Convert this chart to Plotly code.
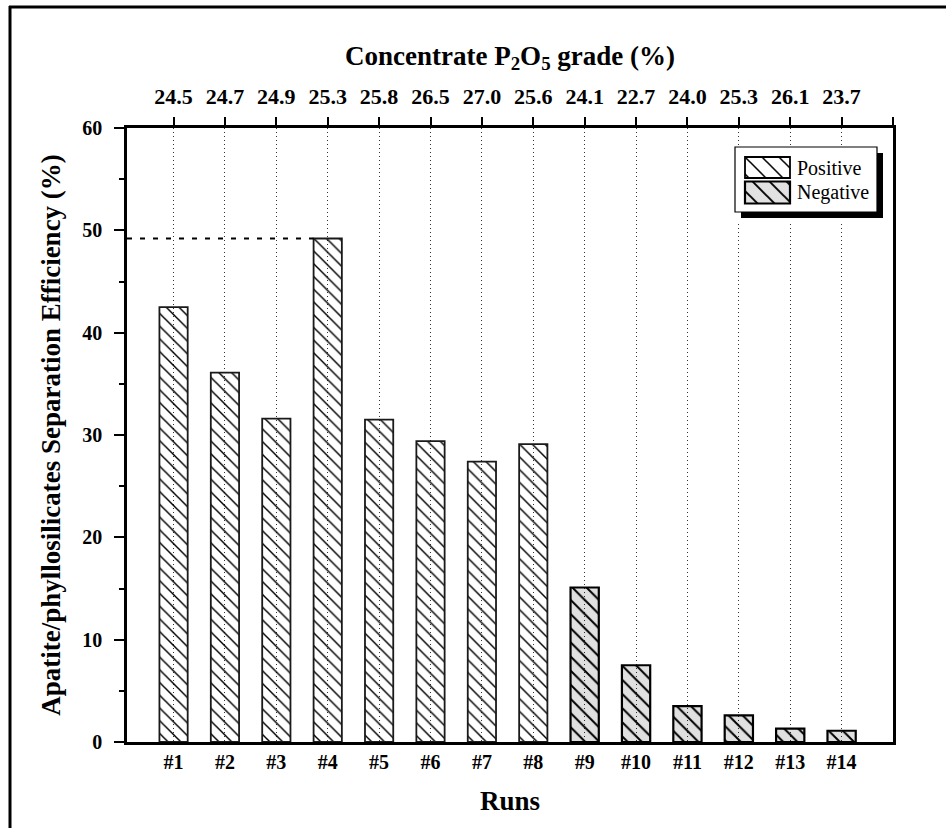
import plotly.graph_objects as go

# ---------------- data ----------------
runs = ['#1', '#2', '#3', '#4', '#5', '#6', '#7', '#8', '#9', '#10', '#11', '#12', '#13', '#14']
efficiency = [42.5, 36.1, 31.6, 49.2, 31.5, 29.4, 27.4, 29.1, 15.1, 7.5, 3.5, 2.6, 1.3, 1.1]
grade = ['24.5', '24.7', '24.9', '25.3', '25.8', '26.5', '27.0', '25.6', '24.1', '22.7', '24.0', '25.3', '26.1', '23.7']
kind = ['Positive'] * 8 + ['Negative'] * 6
y_ticks = [0, 10, 20, 30, 40, 50, 60]

# ---------------- layout constants ----------------
W, H = 946, 828
ML, MR, MT, MB = 127, 53, 128, 86
PW, PH = W - ML - MR, H - MT - MB
X_RANGE = [0.094, 15.0]
BAR_W = 0.55
FONT = "Liberation Serif"


def paper_x(p):
    return (p - ML) / PW


def paper_y(p):
    return (H - MB - p) / PH


pos = [i + 1 for i, k in enumerate(kind)]
pos_x = [p for p, k in zip(pos, kind) if k == 'Positive']
pos_y = [v for v, k in zip(efficiency, kind) if k == 'Positive']
neg_x = [p for p, k in zip(pos, kind) if k == 'Negative']
neg_y = [v for v, k in zip(efficiency, kind) if k == 'Negative']

fig = go.Figure()

fig.add_trace(go.Bar(
    x=pos_x, y=pos_y, width=BAR_W, name='Positive', hoverinfo='x+y',
    marker=dict(color='rgba(0,0,0,0)', line=dict(color='#1a1a1a', width=1.8),
                pattern=dict(shape='\\', size=9, solidity=0.16, fgcolor='black',
                             bgcolor='rgba(0,0,0,0)', fillmode='replace')),
))
fig.add_trace(go.Bar(
    x=neg_x, y=neg_y, width=BAR_W, name='Negative', hoverinfo='x+y',
    marker=dict(color='rgba(0,0,0,0.12)', line=dict(color='black', width=2.2),
                pattern=dict(shape='\\', size=10, solidity=0.2, fgcolor='black',
                             bgcolor='rgba(0,0,0,0.12)', fillmode='replace')),
))
# invisible trace so the top axis (grade) is drawn
fig.add_trace(go.Scatter(x=pos, y=efficiency, xaxis='x2', yaxis='y', mode='markers',
                         marker=dict(opacity=0), showlegend=False, hoverinfo='skip'))

# ---------------- manual legend (own small subplot) ----------------
LX0, LX1, LY0, LY1 = 733, 886, 145, 221
fig.add_trace(go.Bar(
    orientation='h', y=[167.5], x=[45], base=[745], width=[21],
    xaxis='x3', yaxis='y2', showlegend=False, hoverinfo='skip',
    marker=dict(color='white', line=dict(color='black', width=1.8),
                pattern=dict(shape='\\', size=12, solidity=0.13, fgcolor='black',
                             bgcolor='white', fillmode='replace')),
))
fig.add_trace(go.Bar(
    orientation='h', y=[192.5], x=[45], base=[745], width=[22],
    xaxis='x3', yaxis='y2', showlegend=False, hoverinfo='skip',
    marker=dict(color='#e2e2e2', line=dict(color='black', width=2.2),
                pattern=dict(shape='\\', size=12, solidity=0.16, fgcolor='black',
                             bgcolor='#e2e2e2', fillmode='replace')),
))

title_font = dict(family=FONT, size=27, color='black', weight='bold')
tick_font = dict(family=FONT, size=20, color='black', weight='bold')

shapes = [
    # dashed reference line at run #4 value
    dict(type='line', xref='x', yref='y', layer='above',
         x0=X_RANGE[0], x1=4 - BAR_W / 2, y0=efficiency[3], y1=efficiency[3],
         line=dict(color='black', width=2, dash='5px,8px')),
    # legend shadow and box
    dict(type='rect', xref='x3', yref='y2', layer='below',
         x0=741, x1=883, y0=153, y1=218, fillcolor='black', line=dict(width=0)),
    dict(type='rect', xref='x3', yref='y2', layer='below',
         x0=735, x1=877, y0=147, y1=212, fillcolor='white',
         line=dict(color='black', width=1.2)),
    # outer frame (top and left edges)
    dict(type='line', xref='paper', yref='paper', layer='above',
         x0=paper_x(9), x1=paper_x(W + 5), y0=paper_y(7), y1=paper_y(7),
         line=dict(color='black', width=3)),
    dict(type='line', xref='paper', yref='paper', layer='above',
         x0=paper_x(10), x1=paper_x(10), y0=paper_y(6), y1=paper_y(H + 5),
         line=dict(color='black', width=3)),
]

annotations = [
    dict(xref='x3', yref='y2', x=795, y=167.5, text='Positive', showarrow=False,
         xanchor='left', yanchor='middle', font=dict(family=FONT, size=20, color='black')),
    dict(xref='x3', yref='y2', x=795, y=192.5, text='Negative', showarrow=False,
         xanchor='left', yanchor='middle', font=dict(family=FONT, size=20, color='black')),
]

fig.update_layout(
    width=W, height=H,
    margin=dict(l=ML, r=MR, t=MT, b=MB, autoexpand=False),
    paper_bgcolor='white', plot_bgcolor='white',
    barmode='overlay', showlegend=False,
    font=dict(family=FONT, color='black'),
    xaxis=dict(
        range=X_RANGE, tickmode='array', tickvals=pos, ticktext=runs,
        ticks='', showline=True, linecolor='black', linewidth=2.5,
        showgrid=True, gridcolor='#333333', gridwidth=1, griddash='1px,3px',
        zeroline=False, tickfont=dict(family=FONT, size=20, color='black', weight='bold'),
        ticklabelstandoff=0, layer='above traces',
        title=dict(text='Runs', font=title_font, standoff=20),
    ),
    xaxis2=dict(
        overlaying='x', side='top', anchor='y', range=X_RANGE,
        tickmode='array', tickvals=pos + [15], ticktext=grade + [''],
        ticks='outside', ticklen=8, tickwidth=2, tickcolor='black',
        showline=True, linecolor='black', linewidth=2.5, showgrid=False, zeroline=False,
        tickfont=dict(family=FONT, size=22, color='black', weight='bold'),
        ticklabelstandoff=4, layer='above traces',
        title=dict(text='Concentrate P<sub>2</sub>O<sub>5</sub> grade (%)', font=title_font, standoff=12),
    ),
    yaxis=dict(
        range=[0, 60], tickmode='array', tickvals=y_ticks,
        ticks='outside', ticklen=10, tickwidth=2, tickcolor='black',
        minor=dict(dtick=5, ticks='outside', ticklen=5, tickwidth=2, tickcolor='black', showgrid=False),
        showline=True, linecolor='black', linewidth=2.5, mirror=True,
        showgrid=False, zeroline=False, tickfont=tick_font, ticklabelstandoff=8,
        layer='above traces',
        title=dict(text='Apatite/phyllosilicates Separation Efficiency (%)', font=title_font, standoff=14),
    ),
    xaxis3=dict(domain=[paper_x(LX0), paper_x(LX1)], range=[LX0, LX1], anchor='y2',
                visible=False, fixedrange=True),
    yaxis2=dict(domain=[paper_y(LY1), paper_y(LY0)], range=[LY1, LY0], anchor='x3',
                visible=False, fixedrange=True),
    shapes=shapes,
    annotations=annotations,
)

fig.write_html("out.html")
